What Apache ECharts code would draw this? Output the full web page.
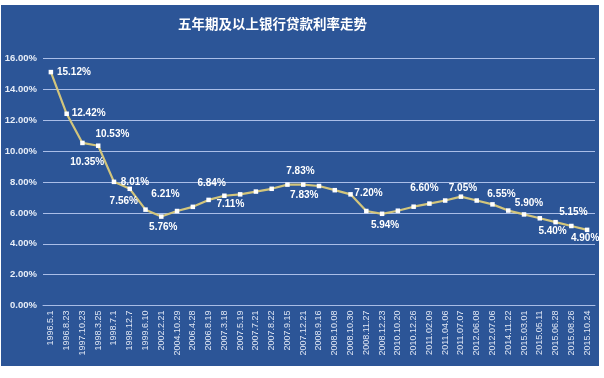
<!DOCTYPE html>
<html>
<head>
<meta charset="utf-8">
<script src="https://cdn.jsdelivr.net/npm/echarts@6/dist/echarts.min.js"></script>
<style>
html,body{margin:0;padding:0;background:#fff;}
#c{width:604px;height:378px;}
</style>
</head>
<body>
<div id="c"></div>
<script>
const titleText = '五年期及以上银行贷款利率走势';
const categories = ['1996.5.1','1996.8.23','1997.10.23','1998.3.25','1998.7.1','1998.12.7','1999.6.10','2002.2.21','2004.10.29','2006.4.28','2006.8.19','2007.3.18','2007.5.19','2007.7.21','2007.8.22','2007.9.15','2007.12.21','2008.9.16','2008.10.08','2008.10.30','2008.11.27','2008.12.23','2010.10.20','2010.12.26','2011.02.09','2011.04.06','2011.07.07','2012.06.08','2012.07.06','2014.11.22','2015.03.01','2015.05.11','2015.06.28','2015.08.26','2015.10.24'];
const rates = [15.12,12.42,10.53,10.35,8.01,7.56,6.21,5.76,6.12,6.39,6.84,7.11,7.20,7.38,7.56,7.83,7.83,7.74,7.47,7.20,6.12,5.94,6.14,6.40,6.60,6.80,7.05,6.80,6.55,6.15,5.90,5.65,5.40,5.15,4.90];
const yTicks = [0,2,4,6,8,10,12,14,16];

// label placement (offset of label centre from the point), for labelled points only
const labelOffsets = {
  0:[23,0], 1:[22,-1], 2:[30,-9], 3:[-11,17], 4:[21,0], 5:[-6,12], 6:[20,-15], 7:[2,11],
  10:[3,-17], 11:[6,9], 15:[13,-13], 16:[1,11], 19:[18,-1], 21:[3,11],
  24:[-5,-15], 26:[2,-8], 28:[9,-10], 30:[5,-11], 32:[-3,9], 33:[2,-14], 34:[-2,8]
};

const seriesData = rates.map((v,i)=>{
  const o = labelOffsets[i];
  if(!o) return {value:v, label:{show:false}};
  return {value:v, label:{show:true, position:'inside', offset:o}};
});

const chart = echarts.init(document.getElementById('c'), null, {renderer:'canvas'});
chart.setOption({
  backgroundColor:'#ffffff',
  animation:false,
  graphic:[{type:'rect', z:-10, silent:true, shape:{x:1,y:5,width:598,height:361}, style:{fill:'#2c5597'}}],
  title:{text:titleText, left:173, top:12, textStyle:{color:'#ffffff', fontSize:13.5, fontWeight:'bold', fontFamily:'Noto Sans CJK SC'}},
  grid:{left:43, right:9, top:58.5, bottom:72.5, containLabel:false},
  xAxis:{
    type:'category', data:categories, boundaryGap:true,
    axisLine:{lineStyle:{color:'#a9bde6', width:1}},
    axisTick:{show:false},
    axisLabel:{interval:0, rotate:90, margin:5, color:'#dfe6f4', fontSize:9, fontFamily:'Liberation Sans'}
  },
  yAxis:{
    type:'value', min:yTicks[0], max:yTicks[yTicks.length-1], interval:2,
    axisLine:{show:false}, axisTick:{show:false},
    splitLine:{lineStyle:{color:'#aabee8', width:1}},
    axisLabel:{margin:6, color:'#e8eef8', fontSize:9.5, fontWeight:'bold', fontFamily:'Liberation Sans', formatter:v=>v.toFixed(2)+'%'}
  },
  series:[{
    type:'line', data:seriesData,
    lineStyle:{color:'#d2c57c', width:2.2},
    symbol:'rect', symbolSize:4.5,
    itemStyle:{color:'#ffffff', borderWidth:0},
    label:{color:'#ffffff', fontSize:10, fontWeight:'bold', fontFamily:'Liberation Sans', formatter:p=>p.value.toFixed(2)+'%'}
  }]
});
</script>
</body>
</html>
